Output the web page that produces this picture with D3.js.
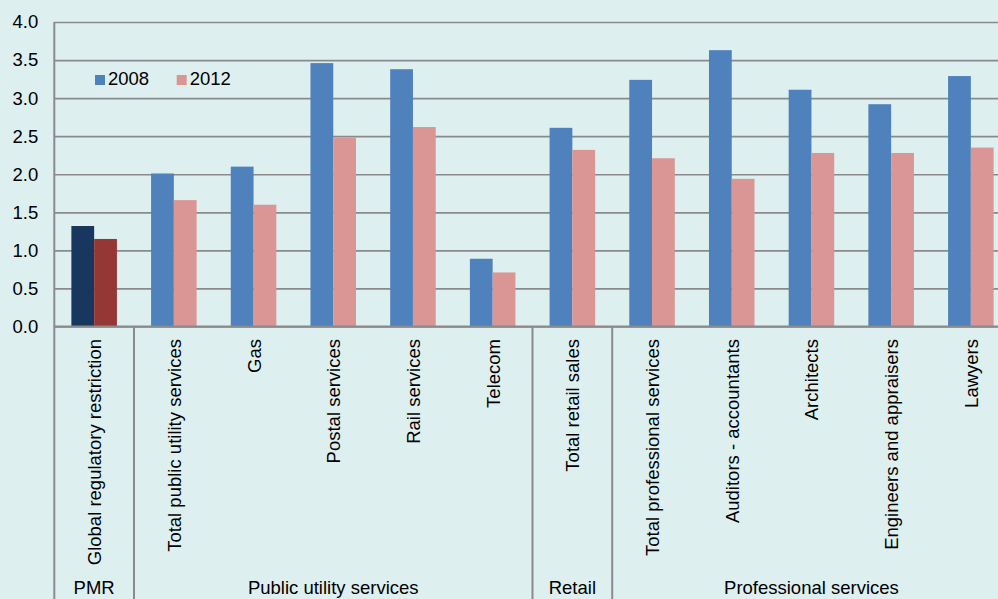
<!DOCTYPE html>
<html>
<head>
<meta charset="utf-8">
<script src="https://cdn.jsdelivr.net/npm/d3@7"></script>
<style>
body { margin:0; background:#deeff0; overflow:hidden; }
svg { display:block; font-family:"Liberation Sans", Arial, sans-serif; }
</style>
</head>
<body>
<svg></svg>
<script>
var categories = ["Global regulatory restriction","Total public utility services","Gas","Postal services",
                  "Rail services","Telecom","Total retail sales","Total professional services",
                  "Auditors - accountants","Architects","Engineers and appraisers","Lawyers"]
var values2008 = [1.32,2.01,2.10,3.46,3.38,0.89,2.61,3.24,3.63,3.11,2.92,3.29]
var values2012 = [1.15,1.66,1.60,2.48,2.62,0.71,2.32,2.21,1.94,2.28,2.28,2.35]
var series = ["2008","2012"]
var groupNames = ["PMR","Public utility services","Retail","Professional services"]
var groupFirst = [0,1,6,7]
var groupLast = [0,5,6,11]
var yTicks = [0,0.5,1,1.5,2,2.5,3,3.5,4]

var screen = {width:998,height:599}
var plot = {left:54.3,right:1010.7,top:22,bottom:326.5}
var fontSize = 18.5

var colors = {"2008":"#4f81bd","2012":"#d99694"}
var darkColors = {"2008":"#17375e","2012":"#953735"}
var gridColor = "#8a8a8a"

var svg = d3.select("svg")
    .attr("width",screen.width)
    .attr("height",screen.height)

var xScale = d3.scaleBand()
    .domain(categories)
    .range([plot.left,plot.right])
    .padding(0)
var xInner = d3.scaleBand()
    .domain(series)
    .range([0,xScale.bandwidth()])
    .paddingInner(0)
    .paddingOuter(0.75)
var yScale = d3.scaleLinear()
    .domain([0,4])
    .range([plot.bottom,plot.top])

// gridlines
svg.append("g")
    .attr("transform","translate("+plot.left+",0)")
    .call(d3.axisLeft(yScale).tickValues(yTicks).tickSize(-(plot.right-plot.left)).tickFormat(""))
    .call(function(g){
        g.select(".domain").remove()
        g.selectAll("line").attr("stroke",gridColor).attr("stroke-width",1.7)
    })

// y labels
svg.append("g")
    .attr("transform","translate("+plot.left+",0)")
    .call(d3.axisLeft(yScale).tickValues(yTicks).tickSize(0).tickPadding(16).tickFormat(d3.format(".1f")))
    .call(function(g){
        g.select(".domain").remove()
        g.selectAll("text").attr("font-size",fontSize).attr("fill","#000")
            .attr("font-family","Liberation Sans, Arial, sans-serif")
    })

// bars
var rows = categories.map(function(c,i){
    return {cat:c, idx:i, vals:[{s:"2008",v:values2008[i]},{s:"2012",v:values2012[i]}]}
})

var catG = svg.append("g").selectAll("g")
    .data(rows)
    .enter()
    .append("g")
    .attr("transform",function(d){return "translate("+xScale(d.cat)+",0)"})

catG.selectAll("rect")
    .data(function(d){return d.vals.map(function(e){return {s:e.s,v:e.v,idx:d.idx}})})
    .enter()
    .append("rect")
    .attr("x",function(d){return xInner(d.s)})
    .attr("width",xInner.bandwidth())
    .attr("y",function(d){return yScale(d.v)})
    .attr("height",function(d){return yScale(0)-yScale(d.v)})
    .attr("fill",function(d){return d.idx==0 ? darkColors[d.s] : colors[d.s]})

// axes lines
svg.append("line")
    .attr("x1",plot.left).attr("x2",plot.right)
    .attr("y1",plot.bottom).attr("y2",plot.bottom)
    .attr("stroke",gridColor).attr("stroke-width",1.8)
svg.append("line")
    .attr("x1",plot.left).attr("x2",plot.left)
    .attr("y1",plot.top).attr("y2",screen.height)
    .attr("stroke",gridColor).attr("stroke-width",2)

// category labels
svg.append("g").selectAll("text")
    .data(categories)
    .enter()
    .append("text")
    .attr("transform",function(d){return "translate("+(xScale(d)+xScale.bandwidth()/2+7)+",339) rotate(-90)"})
    .attr("text-anchor","end")
    .attr("font-size",fontSize)
    .attr("fill","#000")
    .text(function(d){return d})

// group dividers and labels
var groups = groupNames.map(function(n,i){
    return {name:n, x0:xScale(categories[groupFirst[i]]), x1:xScale(categories[groupLast[i]])+xScale.bandwidth()}
})

svg.append("g").selectAll("line")
    .data(groups.slice(1))
    .enter()
    .append("line")
    .attr("x1",function(d){return d.x0}).attr("x2",function(d){return d.x0})
    .attr("y1",plot.bottom).attr("y2",screen.height)
    .attr("stroke",gridColor).attr("stroke-width",2)

svg.append("g").selectAll("text")
    .data(groups)
    .enter()
    .append("text")
    .attr("x",function(d){return (d.x0+d.x1)/2})
    .attr("y",594)
    .attr("text-anchor","middle")
    .attr("font-size",fontSize)
    .attr("fill","#000")
    .text(function(d){return d.name})

// legend
var legend = svg.append("g").selectAll("g")
    .data(series)
    .enter()
    .append("g")
    .attr("transform",function(d,i){return "translate("+(95+i*81.7)+",75)"})
legend.append("rect")
    .attr("width",10).attr("height",10)
    .attr("fill",function(d){return colors[d]})
legend.append("text")
    .attr("x",13).attr("y",10)
    .attr("font-size",fontSize)
    .attr("fill","#000")
    .text(function(d){return d})
</script>
</body>
</html>
